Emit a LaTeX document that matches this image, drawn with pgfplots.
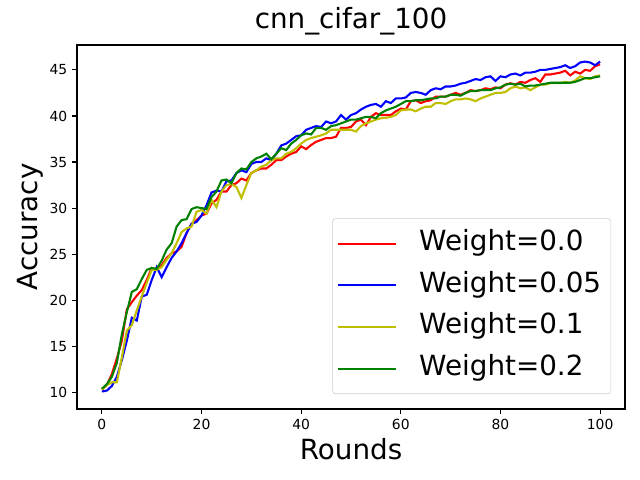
\documentclass[border=0pt]{standalone}
\usepackage{fontspec}
\setmainfont{DejaVu Sans}
\usepackage{pgfplots}
\usepackage{pgfplotstable}
\pgfplotsset{compat=1.18}
\definecolor{myred}{rgb}{1,0,0}
\definecolor{myblue}{rgb}{0,0,1}
\definecolor{myyellow}{rgb}{0.75,0.75,0}
\definecolor{mygreen}{rgb}{0,0.5,0}
\pgfplotstableread{
r w0 w005 w01 w02
0 10.3 10.1 10.3 10.4
1 10.8 10.2 10.8 10.9
2 12.0 10.7 11.1 11.7
3 13.7 11.7 11.1 13.2
4 15.6 13.5 13.8 16.3
5 19.0 15.6 16.7 18.7
6 19.8 18.1 17.3 20.9
7 20.5 17.8 18.9 21.2
8 21.1 20.4 20.4 22.3
9 22.2 20.6 21.9 23.3
10 23.5 22.2 23.3 23.5
11 23.3 23.6 23.3 23.4
12 23.8 22.5 23.6 24.3
13 24.6 23.6 24.4 25.5
14 25.1 24.6 25.1 26.2
15 25.3 25.3 26.2 28.0
16 25.8 26.2 27.4 28.7
17 27.3 27.3 27.8 28.8
18 28.3 28.3 28.0 29.9
19 28.7 28.5 29.6 30.1
20 29.2 29.2 29.8 30.0
21 29.4 30.3 29.4 29.9
22 30.5 31.7 30.9 31.2
23 30.9 31.9 30.1 31.8
24 31.8 31.8 31.8 33.0
25 31.8 32.9 32.5 33.1
26 32.5 33.0 32.6 32.7
27 32.7 33.8 32.3 33.8
28 33.2 34.1 31.1 34.3
29 33.0 33.9 32.5 34.2
30 33.8 34.8 33.8 35.0
31 34.1 35.0 34.1 35.4
32 34.3 35.0 34.5 35.6
33 34.3 35.4 34.7 35.9
34 34.7 35.2 35.2 35.3
35 35.2 35.9 35.4 35.9
36 35.2 36.8 35.4 36.5
37 35.6 37.0 35.9 36.3
38 35.9 37.4 36.1 37.0
39 36.1 37.8 36.5 37.4
40 36.7 37.9 37.0 37.9
41 36.4 38.5 37.4 38.1
42 36.85 38.7 37.6 38.0
43 37.2 38.9 37.75 38.7
44 37.4 38.8 37.9 38.7
45 37.6 39.4 38.1 38.5
46 37.6 39.2 38.5 38.9
47 37.75 39.4 38.5 39.0
48 38.7 40.1 38.5 39.2
49 38.7 39.6 38.5 39.4
50 38.8 40.1 38.5 39.6
51 39.4 40.3 38.3 39.6
52 39.6 40.7 38.9 39.75
53 39.0 41.0 39.2 39.9
54 39.9 41.2 39.4 39.9
55 40.3 41.3 39.6 39.75
56 40.1 41.0 39.75 40.3
57 40.1 41.6 39.8 40.6
58 40.1 41.4 39.9 40.8
59 40.5 41.9 40.1 41.0
60 40.8 41.9 40.6 41.3
61 40.7 42.0 40.7 41.6
62 41.6 42.5 40.7 41.6
63 41.7 42.6 40.5 41.7
64 41.4 42.5 40.8 41.7
65 41.6 42.3 41.0 41.8
66 41.7 42.8 41.0 41.9
67 42.1 43.0 41.4 41.9
68 42.1 42.9 41.4 42.1
69 42.1 43.2 41.3 42.1
70 42.3 43.2 41.6 42.3
71 42.5 43.3 41.8 42.3
72 42.3 43.5 41.8 42.2
73 42.5 43.6 41.9 42.5
74 42.8 43.8 41.8 42.7
75 42.7 44.0 41.6 42.7
76 42.8 43.9 41.9 42.8
77 43.0 44.2 42.1 42.8
78 42.9 44.3 42.3 42.8
79 43.1 43.8 42.5 43.0
80 43.0 44.3 42.5 43.1
81 43.4 44.2 42.6 43.4
82 43.55 44.5 43.0 43.5
83 43.4 44.6 43.2 43.4
84 43.7 44.4 43.0 43.5
85 43.6 44.7 43.1 43.2
86 43.9 44.7 42.8 43.3
87 44.1 44.8 43.1 43.3
88 43.7 45.0 43.4 43.4
89 44.5 45.0 43.4 43.5
90 44.5 45.1 43.55 43.6
91 44.6 45.2 43.6 43.6
92 44.7 45.3 43.55 43.6
93 44.9 45.5 43.7 43.6
94 44.4 45.2 43.6 43.6
95 44.8 45.4 43.85 43.7
96 44.6 45.8 44.3 43.9
97 45.0 45.9 44.1 44.1
98 44.9 45.8 44.0 44.1
99 45.4 45.5 44.3 44.2
100 45.6 45.9 44.4 44.3
}\datatable
\begin{document}
\begin{tikzpicture}
\begin{axis}[
  name=ax,
  scale only axis,
  width=394.56pt, height=262.08pt,
  xmin=-5, xmax=105, ymin=8.2, ymax=47.7,
  xtick={0,20,40,60,80,100},
  ytick={10,15,20,25,30,35,40,45},
  tick align=outside,
  major tick length=3.5pt,
  every tick/.style={black, line width=0.8pt},
  axis line style={line width=0.8pt},
  tick label style={font=\fontsize{10}{12}\selectfont},
  /pgf/number format/assume math mode=true,
  xtick pos=bottom, ytick pos=left,
  title={cnn\_cifar\_100},
  title style={at={(axis description cs:0.5,1)}, anchor=base, yshift=6pt, font=\fontsize{20}{24}\selectfont},
  xlabel={Rounds},
  xlabel style={at={(axis description cs:0.5,0)}, anchor=base, yshift=-36.7pt, font=\fontsize{20}{24}\selectfont},
  ylabel={Accuracy},
  ylabel style={at={(axis description cs:0,0.5)}, anchor=base, yshift=28.5pt, font=\fontsize{20}{24}\selectfont},
  legend cell align=left,
  legend image code/.code={\draw[#1] (0pt,0pt) -- (41.8pt,0pt);},
  legend style={at={(1,0)}, anchor=south east, xshift=-10pt, yshift=10.8pt,
    font=\fontsize{20}{24}\selectfont, draw=black!20, rounded corners=2pt,
    fill=white, fill opacity=0.8, text opacity=1, draw opacity=1,
    inner xsep=3pt, inner ysep=3pt, row sep=0pt, column sep=12pt,
    nodes={inner sep=4pt, text height=16pt, text depth=6pt}},
]
\addplot[myred, line width=1.5pt] table[x=r, y=w0] {\datatable};
\addlegendentry{Weight=0.0}
\addplot[myblue, line width=1.5pt] table[x=r, y=w005] {\datatable};
\addlegendentry{Weight=0.05}
\addplot[myyellow, line width=1.5pt] table[x=r, y=w01] {\datatable};
\addlegendentry{Weight=0.1}
\addplot[mygreen, line width=1.5pt] table[x=r, y=w02] {\datatable};
\addlegendentry{Weight=0.2}
\end{axis}
\pgfresetboundingbox
\path[use as bounding box] ([xshift=-55.44pt, yshift=-51.12pt]ax.south west) rectangle ([xshift=10.8pt, yshift=32.4pt]ax.north east);
\end{tikzpicture}
\end{document}
